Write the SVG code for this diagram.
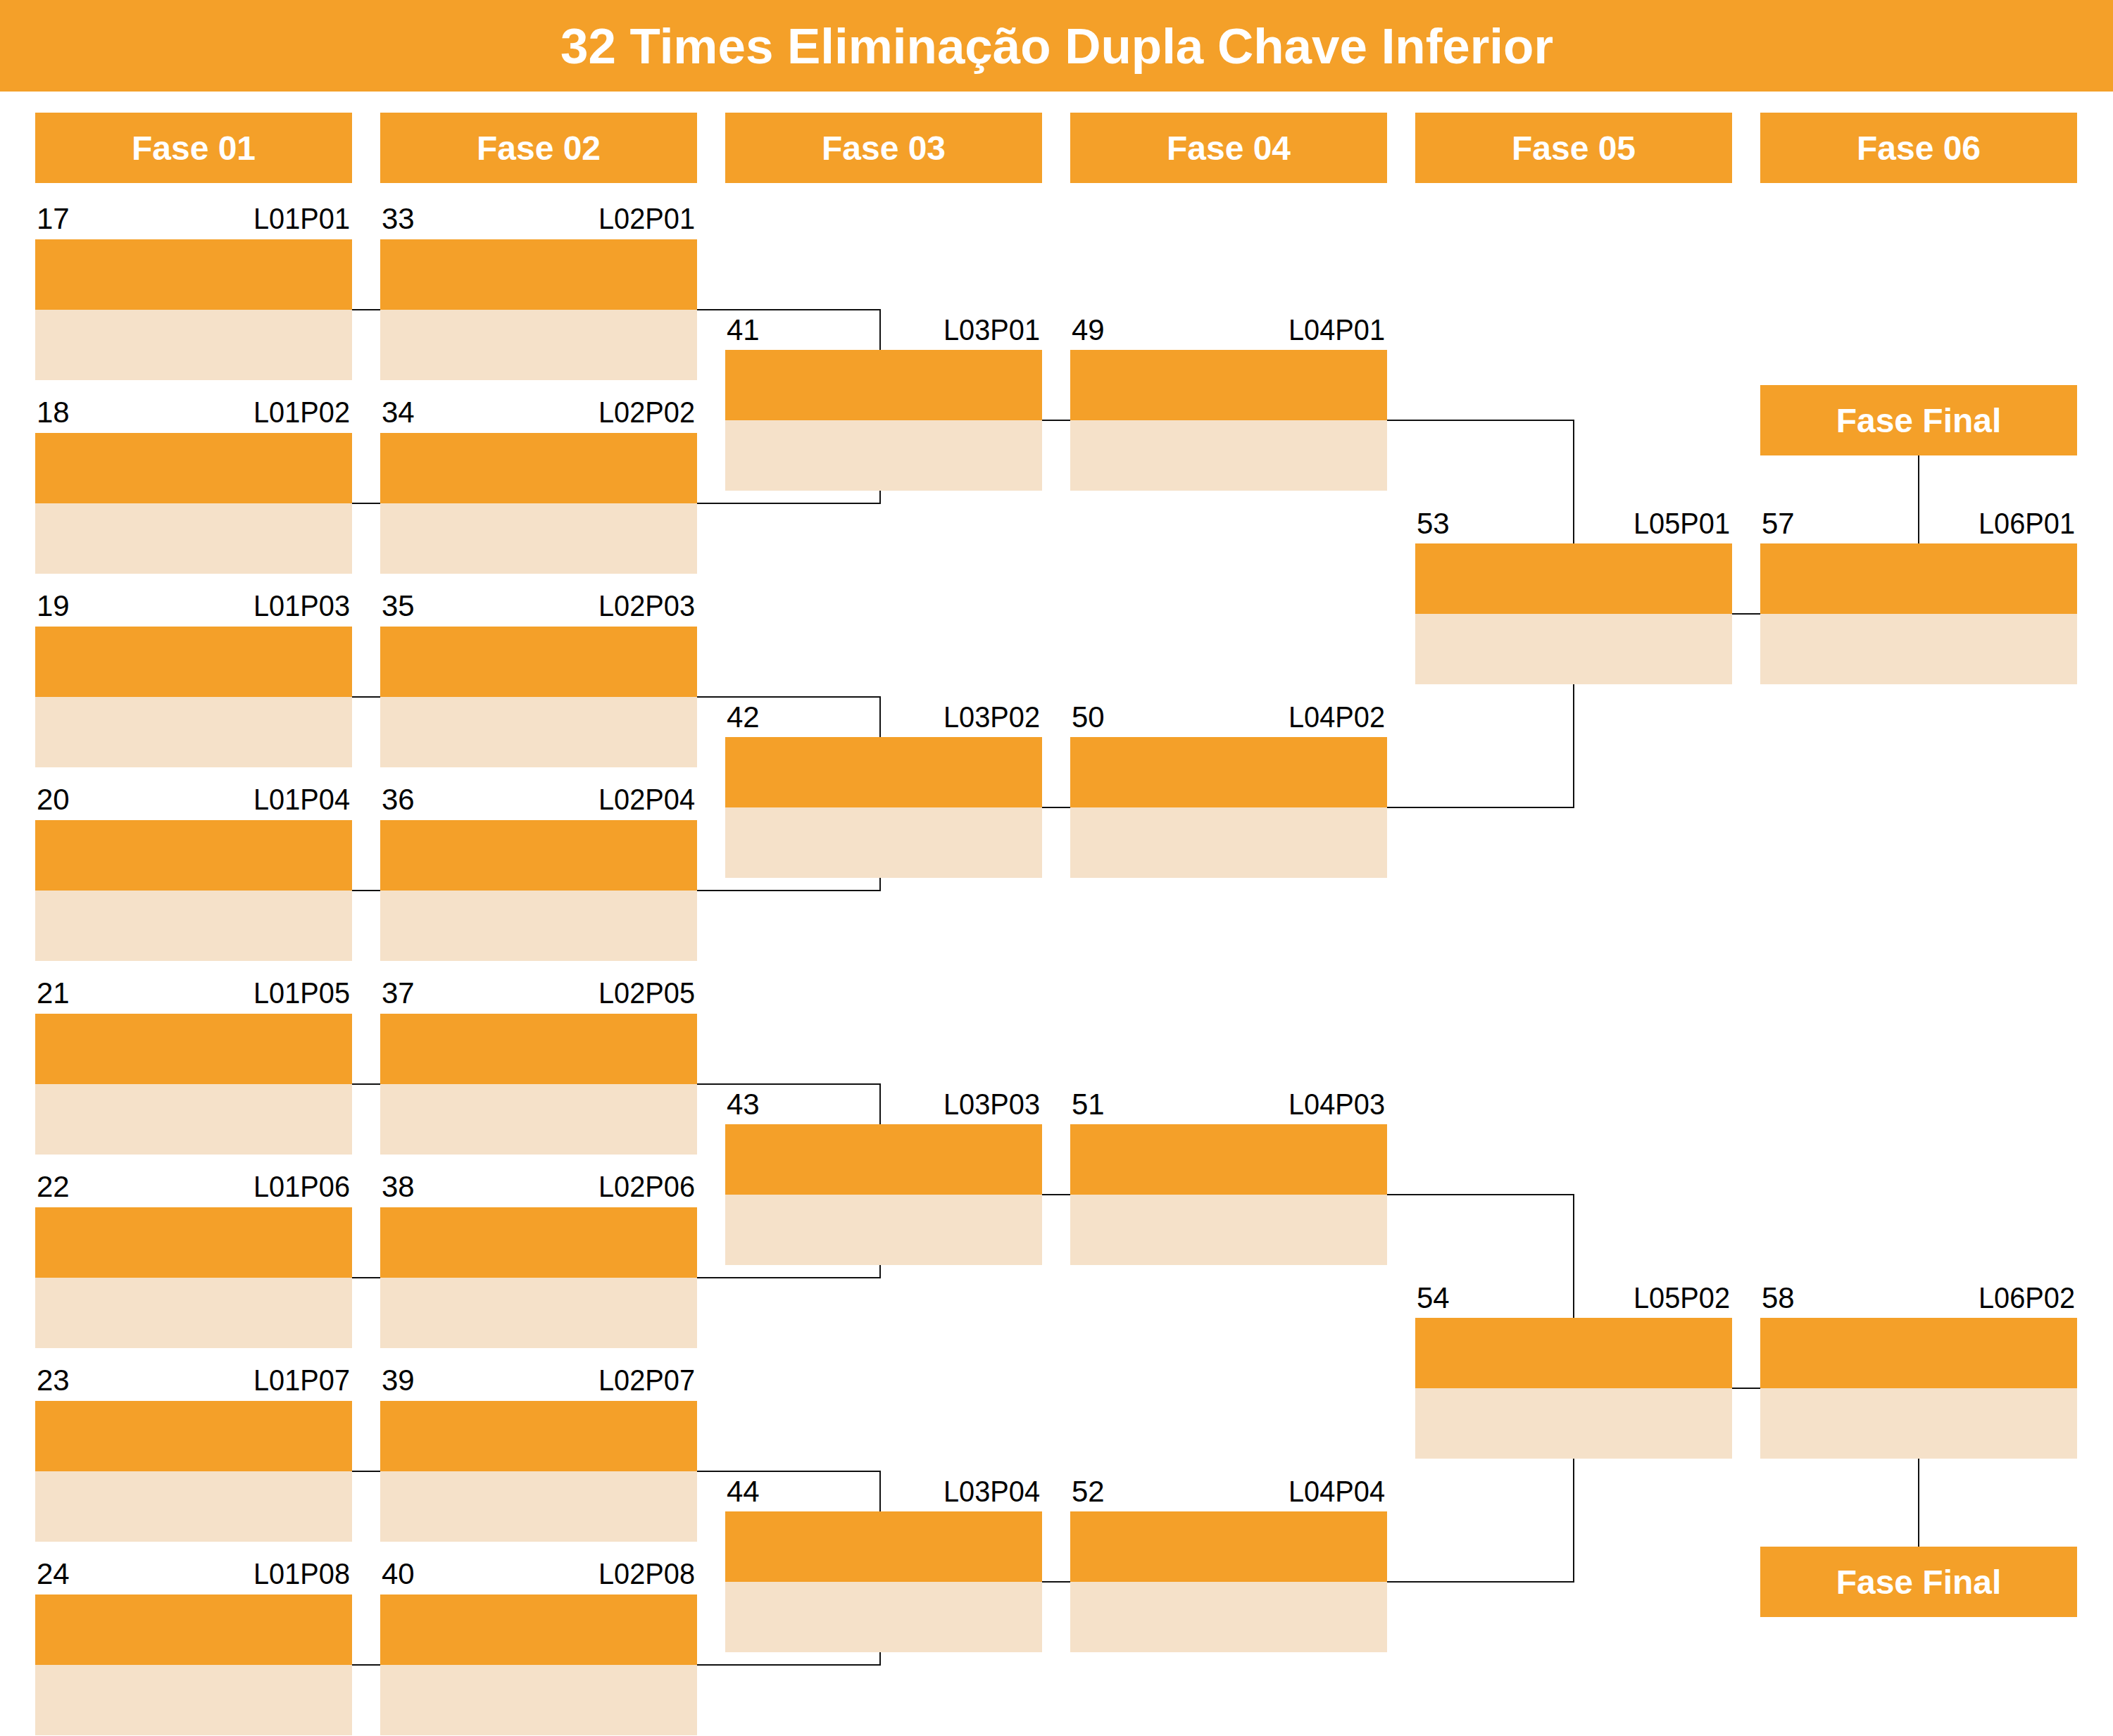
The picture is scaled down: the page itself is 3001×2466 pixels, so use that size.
<svg xmlns="http://www.w3.org/2000/svg" width="3001" height="2466" viewBox="0 0 3001 2466">
<defs>
<style>
.or{fill:#F4A029}
.bg{fill:#F5E1C9}
.num{font-family:"Liberation Sans",Arial,sans-serif;font-size:42px;fill:#000}
.code{font-family:"Liberation Sans",Arial,sans-serif;font-size:42px;fill:#000;text-anchor:end}
.hd{font-family:"Liberation Sans",Arial,sans-serif;font-size:48px;font-weight:bold;fill:#fff;text-anchor:middle}
.title{font-family:"Liberation Sans",Arial,sans-serif;font-size:70px;font-weight:bold;fill:#fff;text-anchor:middle}
.ln{fill:none;stroke:#111;stroke-width:2}
</style>
</defs>
<rect width="3001" height="2466" fill="#fff"/>
<g id="title">
<rect class="or" x="0" y="0" width="3001" height="130"/>
<text class="title" x="1501" y="90" textLength="1410" lengthAdjust="spacingAndGlyphs">32 Times Eliminação Dupla Chave Inferior</text>
</g>
<g id="headers">
<g id="h1"><rect class="or" x="50" y="160" width="450" height="100"/><text class="hd" x="275" y="227">Fase 01</text></g>
<g id="h2"><rect class="or" x="540" y="160" width="450" height="100"/><text class="hd" x="765" y="227">Fase 02</text></g>
<g id="h3"><rect class="or" x="1030" y="160" width="450" height="100"/><text class="hd" x="1255" y="227">Fase 03</text></g>
<g id="h4"><rect class="or" x="1520" y="160" width="450" height="100"/><text class="hd" x="1745" y="227">Fase 04</text></g>
<g id="h5"><rect class="or" x="2010" y="160" width="450" height="100"/><text class="hd" x="2235" y="227">Fase 05</text></g>
<g id="h6"><rect class="or" x="2500" y="160" width="450" height="100"/><text class="hd" x="2725" y="227">Fase 06</text></g>
</g>
<g id="connectors">
<path class="ln" d="M500,440H540M500,715H540M500,990H540M500,1265H540M500,1540H540M500,1815H540M500,2090H540M500,2365H540"/>
<path class="ln" d="M990,440H1250V497M990,715H1250V697M990,990H1250V1047M990,1265H1250V1247M990,1540H1250V1597M990,1815H1250V1797M990,2090H1250V2147M990,2365H1250V2347"/>
<path class="ln" d="M1480,597H1520M1480,1147H1520M1480,1697H1520M1480,2247H1520"/>
<path class="ln" d="M1970,597H2235V772M1970,1147H2235V972M1970,1697H2235V1872M1970,2247H2235V2072"/>
<path class="ln" d="M2460,872H2500M2460,1972H2500"/>
<path class="ln" d="M2725,647V772M2725,2072V2197"/>
</g>
<g id="m17"><rect class="or" x="50" y="340" width="450" height="100"/><rect class="bg" x="50" y="440" width="450" height="100"/><text class="num" x="52" y="325">17</text><text class="code" x="497" y="325" textLength="137" lengthAdjust="spacingAndGlyphs">L01P01</text></g>
<g id="m18"><rect class="or" x="50" y="615" width="450" height="100"/><rect class="bg" x="50" y="715" width="450" height="100"/><text class="num" x="52" y="600">18</text><text class="code" x="497" y="600" textLength="137" lengthAdjust="spacingAndGlyphs">L01P02</text></g>
<g id="m19"><rect class="or" x="50" y="890" width="450" height="100"/><rect class="bg" x="50" y="990" width="450" height="100"/><text class="num" x="52" y="875">19</text><text class="code" x="497" y="875" textLength="137" lengthAdjust="spacingAndGlyphs">L01P03</text></g>
<g id="m20"><rect class="or" x="50" y="1165" width="450" height="100"/><rect class="bg" x="50" y="1265" width="450" height="100"/><text class="num" x="52" y="1150">20</text><text class="code" x="497" y="1150" textLength="137" lengthAdjust="spacingAndGlyphs">L01P04</text></g>
<g id="m21"><rect class="or" x="50" y="1440" width="450" height="100"/><rect class="bg" x="50" y="1540" width="450" height="100"/><text class="num" x="52" y="1425">21</text><text class="code" x="497" y="1425" textLength="137" lengthAdjust="spacingAndGlyphs">L01P05</text></g>
<g id="m22"><rect class="or" x="50" y="1715" width="450" height="100"/><rect class="bg" x="50" y="1815" width="450" height="100"/><text class="num" x="52" y="1700">22</text><text class="code" x="497" y="1700" textLength="137" lengthAdjust="spacingAndGlyphs">L01P06</text></g>
<g id="m23"><rect class="or" x="50" y="1990" width="450" height="100"/><rect class="bg" x="50" y="2090" width="450" height="100"/><text class="num" x="52" y="1975">23</text><text class="code" x="497" y="1975" textLength="137" lengthAdjust="spacingAndGlyphs">L01P07</text></g>
<g id="m24"><rect class="or" x="50" y="2265" width="450" height="100"/><rect class="bg" x="50" y="2365" width="450" height="100"/><text class="num" x="52" y="2250">24</text><text class="code" x="497" y="2250" textLength="137" lengthAdjust="spacingAndGlyphs">L01P08</text></g>
<g id="m33"><rect class="or" x="540" y="340" width="450" height="100"/><rect class="bg" x="540" y="440" width="450" height="100"/><text class="num" x="542" y="325">33</text><text class="code" x="987" y="325" textLength="137" lengthAdjust="spacingAndGlyphs">L02P01</text></g>
<g id="m34"><rect class="or" x="540" y="615" width="450" height="100"/><rect class="bg" x="540" y="715" width="450" height="100"/><text class="num" x="542" y="600">34</text><text class="code" x="987" y="600" textLength="137" lengthAdjust="spacingAndGlyphs">L02P02</text></g>
<g id="m35"><rect class="or" x="540" y="890" width="450" height="100"/><rect class="bg" x="540" y="990" width="450" height="100"/><text class="num" x="542" y="875">35</text><text class="code" x="987" y="875" textLength="137" lengthAdjust="spacingAndGlyphs">L02P03</text></g>
<g id="m36"><rect class="or" x="540" y="1165" width="450" height="100"/><rect class="bg" x="540" y="1265" width="450" height="100"/><text class="num" x="542" y="1150">36</text><text class="code" x="987" y="1150" textLength="137" lengthAdjust="spacingAndGlyphs">L02P04</text></g>
<g id="m37"><rect class="or" x="540" y="1440" width="450" height="100"/><rect class="bg" x="540" y="1540" width="450" height="100"/><text class="num" x="542" y="1425">37</text><text class="code" x="987" y="1425" textLength="137" lengthAdjust="spacingAndGlyphs">L02P05</text></g>
<g id="m38"><rect class="or" x="540" y="1715" width="450" height="100"/><rect class="bg" x="540" y="1815" width="450" height="100"/><text class="num" x="542" y="1700">38</text><text class="code" x="987" y="1700" textLength="137" lengthAdjust="spacingAndGlyphs">L02P06</text></g>
<g id="m39"><rect class="or" x="540" y="1990" width="450" height="100"/><rect class="bg" x="540" y="2090" width="450" height="100"/><text class="num" x="542" y="1975">39</text><text class="code" x="987" y="1975" textLength="137" lengthAdjust="spacingAndGlyphs">L02P07</text></g>
<g id="m40"><rect class="or" x="540" y="2265" width="450" height="100"/><rect class="bg" x="540" y="2365" width="450" height="100"/><text class="num" x="542" y="2250">40</text><text class="code" x="987" y="2250" textLength="137" lengthAdjust="spacingAndGlyphs">L02P08</text></g>
<g id="m41"><rect class="or" x="1030" y="497" width="450" height="100"/><rect class="bg" x="1030" y="597" width="450" height="100"/><text class="num" x="1032" y="483">41</text><text class="code" x="1477" y="483" textLength="137" lengthAdjust="spacingAndGlyphs">L03P01</text></g>
<g id="m42"><rect class="or" x="1030" y="1047" width="450" height="100"/><rect class="bg" x="1030" y="1147" width="450" height="100"/><text class="num" x="1032" y="1033">42</text><text class="code" x="1477" y="1033" textLength="137" lengthAdjust="spacingAndGlyphs">L03P02</text></g>
<g id="m43"><rect class="or" x="1030" y="1597" width="450" height="100"/><rect class="bg" x="1030" y="1697" width="450" height="100"/><text class="num" x="1032" y="1583">43</text><text class="code" x="1477" y="1583" textLength="137" lengthAdjust="spacingAndGlyphs">L03P03</text></g>
<g id="m44"><rect class="or" x="1030" y="2147" width="450" height="100"/><rect class="bg" x="1030" y="2247" width="450" height="100"/><text class="num" x="1032" y="2133">44</text><text class="code" x="1477" y="2133" textLength="137" lengthAdjust="spacingAndGlyphs">L03P04</text></g>
<g id="m49"><rect class="or" x="1520" y="497" width="450" height="100"/><rect class="bg" x="1520" y="597" width="450" height="100"/><text class="num" x="1522" y="483">49</text><text class="code" x="1967" y="483" textLength="137" lengthAdjust="spacingAndGlyphs">L04P01</text></g>
<g id="m50"><rect class="or" x="1520" y="1047" width="450" height="100"/><rect class="bg" x="1520" y="1147" width="450" height="100"/><text class="num" x="1522" y="1033">50</text><text class="code" x="1967" y="1033" textLength="137" lengthAdjust="spacingAndGlyphs">L04P02</text></g>
<g id="m51"><rect class="or" x="1520" y="1597" width="450" height="100"/><rect class="bg" x="1520" y="1697" width="450" height="100"/><text class="num" x="1522" y="1583">51</text><text class="code" x="1967" y="1583" textLength="137" lengthAdjust="spacingAndGlyphs">L04P03</text></g>
<g id="m52"><rect class="or" x="1520" y="2147" width="450" height="100"/><rect class="bg" x="1520" y="2247" width="450" height="100"/><text class="num" x="1522" y="2133">52</text><text class="code" x="1967" y="2133" textLength="137" lengthAdjust="spacingAndGlyphs">L04P04</text></g>
<g id="m53"><rect class="or" x="2010" y="772" width="450" height="100"/><rect class="bg" x="2010" y="872" width="450" height="100"/><text class="num" x="2012" y="758">53</text><text class="code" x="2457" y="758" textLength="137" lengthAdjust="spacingAndGlyphs">L05P01</text></g>
<g id="m54"><rect class="or" x="2010" y="1872" width="450" height="100"/><rect class="bg" x="2010" y="1972" width="450" height="100"/><text class="num" x="2012" y="1858">54</text><text class="code" x="2457" y="1858" textLength="137" lengthAdjust="spacingAndGlyphs">L05P02</text></g>
<g id="m57"><rect class="or" x="2500" y="772" width="450" height="100"/><rect class="bg" x="2500" y="872" width="450" height="100"/><text class="num" x="2502" y="758">57</text><text class="code" x="2947" y="758" textLength="137" lengthAdjust="spacingAndGlyphs">L06P01</text></g>
<g id="m58"><rect class="or" x="2500" y="1872" width="450" height="100"/><rect class="bg" x="2500" y="1972" width="450" height="100"/><text class="num" x="2502" y="1858">58</text><text class="code" x="2947" y="1858" textLength="137" lengthAdjust="spacingAndGlyphs">L06P02</text></g>
<g id="final1"><rect class="or" x="2500" y="547" width="450" height="100"/><text class="hd" x="2725" y="614">Fase Final</text></g>
<g id="final2"><rect class="or" x="2500" y="2197" width="450" height="100"/><text class="hd" x="2725" y="2264">Fase Final</text></g>
</svg>
